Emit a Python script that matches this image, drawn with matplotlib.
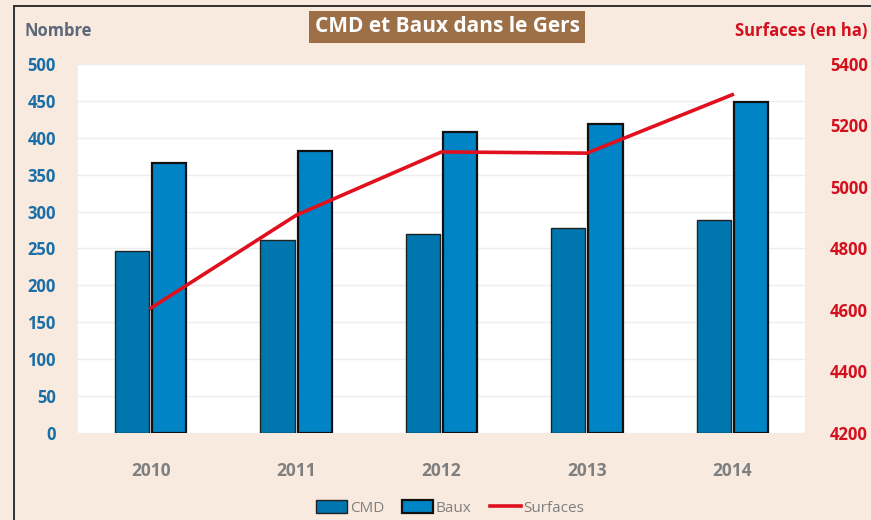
import numpy as np
import matplotlib.pyplot as plt
from matplotlib.patches import Rectangle, Patch
from matplotlib.lines import Line2D

plt.rcParams['font.family'] = ['Open Sans', 'DejaVu Sans']

years = ['2010', '2011', '2012', '2013', '2014']
cmd = [247, 261, 270, 278, 289]
baux = [366, 382, 408, 419, 448]
surfaces = [4606, 4908, 5114, 5110, 5300]

bg = '#F8EADF'
blue_cmd = '#0076AE'
blue_baux = '#0084C6'
red = '#E0101E'

fig = plt.figure(figsize=(8.71, 5.2), dpi=100, facecolor=bg)
ax = fig.add_axes([0.0896, 0.1673, 0.8346, 0.7097])
ax.set_facecolor('white')

x = np.arange(len(years))
w = 0.235
ax.bar(x - 0.128, cmd, w, color=blue_cmd, edgecolor='#222222', linewidth=1.0, zorder=3)
ax.bar(x + 0.128, baux, w, color=blue_baux, edgecolor='#111111', linewidth=1.6, zorder=3)

ax.set_xlim(-0.5, 4.5)
ax.set_ylim(0, 500)
ax.set_yticks(range(0, 501, 50))
ax.grid(axis='y', color='#EDEDED', linewidth=1, zorder=0)
ax.set_xticks(x)
ax.set_xticklabels(years, color='#7F7F7F', fontweight='bold', fontsize=12.5)
ax.tick_params(axis='x', length=0, pad=21)
ax.tick_params(axis='y', length=0, pad=16, labelcolor='#1B6EA6', labelsize=12)
for t in ax.get_yticklabels():
    t.set_fontweight('bold')
for s in ax.spines.values():
    s.set_visible(False)

ax2 = ax.twinx()
ax2.plot(x, surfaces, color=red, linewidth=2.6, zorder=5)
ax2.set_ylim(4200, 5400)
ax2.set_yticks(range(4200, 5401, 200))
ax2.tick_params(axis='y', length=0, pad=18, labelcolor='#D5101E', labelsize=12)
for t in ax2.get_yticklabels():
    t.set_fontweight('bold')
for s in ax2.spines.values():
    s.set_visible(False)

# frame
fig.add_artist(Rectangle((14 / 871, -0.1), 2, 1.1 - 6 / 520, transform=fig.transFigure,
                         fill=False, edgecolor='#222222', linewidth=1.3))

fig.text(24 / 871, 1 - 31 / 520, 'Nombre', color='#5D6878', fontweight='bold',
         fontsize=12, va='center', ha='left')
fig.text(867 / 871, 1 - 31 / 520, 'Surfaces (en ha)', color='#D5101E', fontweight='bold',
         fontsize=12, va='center', ha='right')
fig.text(447 / 871, 1 - 27 / 520, 'CMD et Baux dans le Gers', color='white', fontweight='bold',
         fontsize=15, va='center', ha='center',
         bbox=dict(boxstyle='square,pad=0.25', facecolor='#9C6F47', edgecolor='none'))

handles = [Patch(facecolor=blue_cmd, edgecolor='#222222', linewidth=1.0),
           Patch(facecolor=blue_baux, edgecolor='#111111', linewidth=1.6),
           Line2D([], [], color=red, linewidth=2.6)]
fig.legend(handles, ['CMD', 'Baux', 'Surfaces'], loc='center', bbox_to_anchor=(0.517, 1 - 508 / 520),
           ncol=3, frameon=False, fontsize=11, labelcolor='#7F7F7F',
           handlelength=2.0, handleheight=0.9, handletextpad=0.2, columnspacing=1.2)

fig.savefig('out.png', dpi=100, facecolor=bg)
